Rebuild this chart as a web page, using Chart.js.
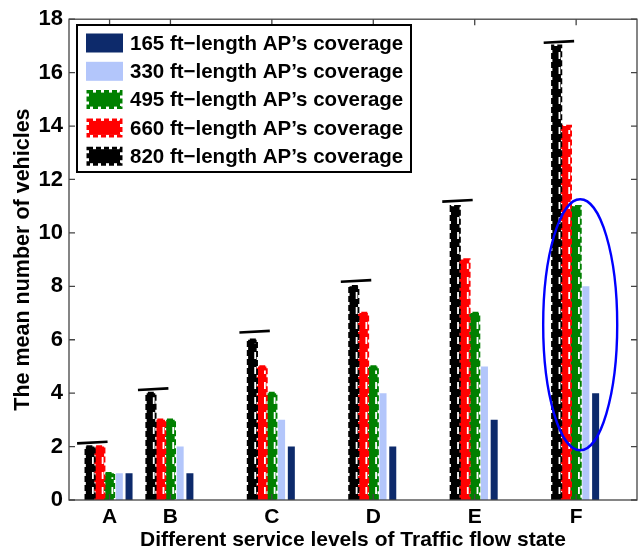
<!DOCTYPE html>
<html>
<head>
<meta charset="utf-8">
<script src="https://cdn.jsdelivr.net/npm/chart.js@4"></script>
<style>
  body { margin: 0; background: #fff; }
  #wrap { width: 643px; height: 553px; }
</style>
</head>
<body>
<div id="wrap"><canvas id="vehiclesChart" width="643" height="553"></canvas></div>
<script>
// Niveles de servicio y su posición en el eje x
const levels = ['A', 'B', 'C', 'D', 'E', 'F'];
const levelPositions = [1.4, 2, 3, 4, 5, 6];

// Número medio de vehículos por longitud de cobertura del AP
const coverage820 = [2, 4, 6, 8, 11, 17];
const coverage660 = [2, 3, 5, 7, 9, 14];
const coverage495 = [1, 3, 4, 5, 7, 11];
const coverage330 = [1, 2, 3, 4, 5, 8];
const coverage165 = [1, 1, 2, 2, 3, 4];

// Marcas horizontales sobre las barras de 820 ft
const capValues = [2.15, 4.15, 6.3, 8.2, 11.2, 17.15];

// Elipse que resalta el grupo F (centro y radios en unidades de datos)
const highlight = { x: 6.04, y: 6.56, rx: 0.365, ry: 4.7 };

const yTicks = [0, 2, 4, 6, 8, 10, 12, 14, 16, 18];

const FONT = '"Liberation Sans", Arial, Helvetica, sans-serif';

const ctx = document.getElementById('vehiclesChart').getContext('2d');

function serie(label, values, color, dashed) {
    return {
        label: label,
        data: values.map((v, i) => ({ x: levelPositions[i], y: v })),
        backgroundColor: color,
        borderWidth: 0,
        categoryPercentage: 0.8,
        barPercentage: dashed ? 0.88 : 0.72,
        dashedEdge: dashed
    };
}

// Borde discontinuo de las barras (aspecto dentado + rayas blancas a la derecha)
const dashedBars = {
    id: 'dashedBars',
    afterDatasetDraw(chart, args) {
        const ds = chart.data.datasets[args.index];
        if (!ds.dashedEdge) return;
        const c = chart.ctx;
        c.save();
        args.meta.data.forEach(el => {
            const p = el.getProps(['x', 'y', 'base', 'width'], true);
            const left = p.x - p.width / 2;
            const right = p.x + p.width / 2;
            c.strokeStyle = ds.backgroundColor;
            c.lineWidth = 2.6;
            c.setLineDash([6, 3]);
            c.beginPath();
            c.moveTo(left, p.base);
            c.lineTo(left, p.y);
            c.lineTo(right, p.y);
            c.lineTo(right, p.base);
            c.stroke();
            c.strokeStyle = '#ffffff';
            c.lineWidth = 1.8;
            c.setLineDash([7, 8]);
            c.lineDashOffset = -4;
            c.beginPath();
            c.moveTo(right - 1.5, p.base - 2);
            c.lineTo(right - 1.5, p.y + 4);
            c.stroke();
            c.lineDashOffset = 0;
        });
        c.restore();
    }
};

// Marco con marcas hacia dentro, marcas sobre las barras, elipse y leyenda
const decorations = {
    id: 'decorations',
    afterDraw(chart) {
        const c = chart.ctx;
        const a = chart.chartArea;
        const xs = chart.scales.x;
        const ys = chart.scales.y;
        c.save();

        // marco de los ejes
        c.strokeStyle = '#444';
        c.lineWidth = 1.3;
        c.strokeRect(a.left, a.top, a.right - a.left, a.bottom - a.top);
        c.beginPath();
        levelPositions.forEach(v => {
            const px = xs.getPixelForValue(v);
            c.moveTo(px, a.bottom); c.lineTo(px, a.bottom - 6);
            c.moveTo(px, a.top); c.lineTo(px, a.top + 6);
        });
        yTicks.forEach(v => {
            const py = ys.getPixelForValue(v);
            c.moveTo(a.left, py); c.lineTo(a.left + 6, py);
            c.moveTo(a.right, py); c.lineTo(a.right - 6, py);
        });
        c.stroke();

        // marcas horizontales
        c.strokeStyle = '#000';
        c.lineWidth = 2.6;
        capValues.forEach((v, i) => {
            c.beginPath();
            c.moveTo(xs.getPixelForValue(levelPositions[i] - 0.32), ys.getPixelForValue(v - 0.03));
            c.lineTo(xs.getPixelForValue(levelPositions[i] - 0.02), ys.getPixelForValue(v + 0.03));
            c.stroke();
        });

        // elipse azul
        const cx = xs.getPixelForValue(highlight.x);
        const cy = ys.getPixelForValue(highlight.y);
        const rx = Math.abs(xs.getPixelForValue(highlight.x + highlight.rx) - cx);
        const ry = Math.abs(ys.getPixelForValue(highlight.y + highlight.ry) - cy);
        c.strokeStyle = '#0000ff';
        c.lineWidth = 2.4;
        c.beginPath();
        c.ellipse(cx, cy, rx, ry, 0, 0, Math.PI * 2);
        c.stroke();

        // leyenda
        const box = { x: 77, y: 25, w: 334, h: 147 };
        c.fillStyle = '#fff';
        c.fillRect(box.x, box.y, box.w, box.h);
        c.strokeStyle = '#000';
        c.lineWidth = 2;
        c.strokeRect(box.x, box.y, box.w, box.h);
        const items = chart.data.datasets.slice().reverse();
        c.font = 'bold 20.5px ' + FONT;
        c.textBaseline = 'middle';
        items.forEach((ds, i) => {
            const yc = box.y + 18 + i * 28.3;
            c.fillStyle = ds.backgroundColor;
            if (ds.dashedEdge) {
                c.fillRect(89, yc - 7, 31, 14);
                c.strokeStyle = ds.backgroundColor;
                c.lineWidth = 3;
                c.setLineDash([5, 3]);
                c.strokeRect(88, yc - 8, 33, 16);
                c.setLineDash([]);
            } else {
                c.fillRect(86, yc - 9.5, 37, 19);
            }
            c.fillStyle = '#000';
            c.fillText(ds.label, 130, yc + 1);
        });
        c.restore();
    }
};

new Chart(ctx, {
    type: 'bar',
    data: {
        datasets: [
            serie('820 ft\u2212length AP\u2019s coverage', coverage820, '#000000', true),
            serie('660 ft\u2212length AP\u2019s coverage', coverage660, '#ff0000', true),
            serie('495 ft\u2212length AP\u2019s coverage', coverage495, '#008000', true),
            serie('330 ft\u2212length AP\u2019s coverage', coverage330, '#b3c6fb', false),
            serie('165 ft\u2212length AP\u2019s coverage', coverage165, '#0d2a6b', false)
        ]
    },
    options: {
        responsive: false,
        animation: false,
        layout: { padding: { top: 17, right: 6, left: 0, bottom: 0 } },
        plugins: {
            legend: { display: false },
            tooltip: { enabled: false }
        },
        scales: {
            x: {
                type: 'linear',
                min: 1,
                max: 6.6,
                offset: false,
                grid: { display: false, drawTicks: false },
                border: { display: false },
                afterBuildTicks: scale => {
                    scale.ticks = levelPositions.map(v => ({ value: v }));
                },
                afterFit: scale => { scale.height = 53; },
                ticks: {
                    autoSkip: false,
                    maxRotation: 0,
                    padding: 5,
                    color: '#000',
                    font: { family: FONT, size: 21, weight: 'bold' },
                    callback: (value, index) => levels[index]
                },
                title: {
                    display: true,
                    text: 'Different service levels of Traffic flow state',
                    color: '#000',
                    padding: { top: 0, bottom: 0 },
                    font: { family: FONT, size: 21, weight: 'bold' }
                }
            },
            y: {
                min: 0,
                max: 18,
                grid: { display: false, drawTicks: false },
                border: { display: false },
                afterFit: scale => { scale.width = 69; },
                ticks: {
                    stepSize: 2,
                    padding: 6,
                    color: '#000',
                    font: { family: FONT, size: 22, weight: 'bold' }
                },
                title: {
                    display: true,
                    text: 'The mean number of vehicles',
                    color: '#000',
                    padding: { top: 10, bottom: 0 },
                    font: { family: FONT, size: 21.5, weight: 'bold' }
                }
            }
        }
    },
    plugins: [dashedBars, decorations]
});
</script>
</body>
</html>
